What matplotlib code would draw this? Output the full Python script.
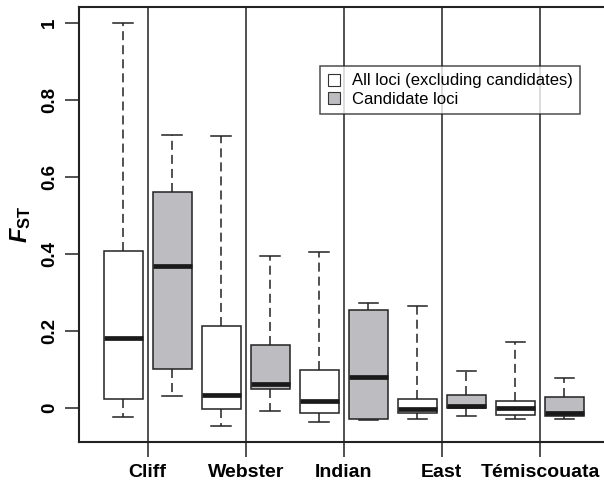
import numpy as np
import matplotlib
matplotlib.use('Agg')
import matplotlib.pyplot as plt
from matplotlib.patches import Patch

plt.rcParams['font.family'] = ['Liberation Sans', 'DejaVu Sans']
plt.rcParams['mathtext.fontset'] = 'custom'
plt.rcParams['mathtext.rm'] = 'Liberation Sans'
plt.rcParams['mathtext.bf'] = 'Liberation Sans:bold'
plt.rcParams['mathtext.it'] = 'Liberation Sans:italic'
plt.rcParams['mathtext.bfit'] = 'Liberation Sans:italic:bold'

lakes = ['Cliff', 'Webster', 'Indian', 'East', 'Témiscouata']

# five-number summaries per lake: whisker low, q1, median, q3, whisker high
all_lo = [-0.023, -0.045, -0.036, -0.027, -0.029]
all_q1 = [0.025, -0.003, -0.011, -0.013, -0.018]
all_med = [0.183, 0.034, 0.020, -0.001, 0.000]
all_q3 = [0.409, 0.214, 0.099, 0.023, 0.020]
all_hi = [1.000, 0.707, 0.407, 0.267, 0.171]

cand_lo = [0.033, -0.007, -0.031, -0.020, -0.027]
cand_q1 = [0.103, 0.051, -0.029, 0.000, -0.019]
cand_med = [0.370, 0.063, 0.082, 0.006, -0.013]
cand_q3 = [0.563, 0.164, 0.255, 0.035, 0.029]
cand_hi = [0.710, 0.396, 0.273, 0.097, 0.079]

yticks = [0, 0.2, 0.4, 0.6, 0.8, 1]
ytick_labels = ['0', '0.2', '0.4', '0.6', '0.8', '1']

gray = '#bdbdc1'

fig = plt.figure(figsize=(6.04, 4.83), dpi=100)
ax = fig.add_axes([79 / 604, 1 - 442 / 483, 529.6 / 604, 435 / 483])


def make_stats(lo, q1, med, q3, hi):
    return [dict(whislo=a, q1=b, med=c, q3=d, whishi=e, fliers=[])
            for a, b, c, d, e in zip(lo, q1, med, q3, hi)]


pos_all = np.arange(len(lakes)) * 2 + 1
pos_cand = pos_all + 1

common = dict(widths=0.8, patch_artist=True, showfliers=False,
              whiskerprops=dict(color='#222222', lw=1.1, linestyle=(0, (5.9, 3.3))),
              capprops=dict(color='#222222', lw=1.1),
              medianprops=dict(color='#1a1a1a', lw=3.4, solid_capstyle='butt'),
              capwidths=0.4)

b1 = ax.bxp(make_stats(all_lo, all_q1, all_med, all_q3, all_hi), positions=pos_all,
            boxprops=dict(facecolor='white', edgecolor='#222222', lw=1.1), **common)
b2 = ax.bxp(make_stats(cand_lo, cand_q1, cand_med, cand_q3, cand_hi), positions=pos_cand,
            boxprops=dict(facecolor=gray, edgecolor='#222222', lw=1.1), **common)

# separators between lakes
seps = pos_all + 0.5
for s in seps:
    ax.axvline(s, color='#222222', lw=1.1, zorder=0.5)

ax.set_xlim(0.1, 10.9)
ax.set_ylim(-0.0875, 1.0423)

ax.set_xticks(seps)
ax.set_xticklabels(lakes, fontsize=14, fontweight='bold')
ax.set_yticks(yticks)
ax.set_yticklabels(ytick_labels, fontsize=13.5, fontweight='bold', rotation=90, va='center')
ax.tick_params(axis='y', length=10, width=1.1, pad=5, color='#222222')
ax.tick_params(axis='x', length=11, width=1.1, pad=5, color='#222222')

for side in ['left', 'bottom', 'top']:
    ax.spines[side].set_linewidth(1.5)
    ax.spines[side].set_color('#222222')
ax.spines['right'].set_visible(False)

ax.set_ylabel(r'$\mathbfit{F}_{\mathbf{ST}}$', fontsize=17, labelpad=6)

handles = [Patch(facecolor='white', edgecolor='#333333', lw=0.8),
           Patch(facecolor=gray, edgecolor='#333333', lw=0.8)]
leg = fig.legend(handles, ['All loci (excluding candidates)', 'Candidate loci'],
                 loc='upper left', bbox_to_anchor=(320 / 604, 1 - 66 / 483),
                 fontsize=12, frameon=True, fancybox=False, borderaxespad=0,
                 handlelength=0.75, handleheight=0.75, handletextpad=0.7,
                 labelspacing=0.2, borderpad=0.45)
leg.get_frame().set_edgecolor('#222222')
leg.get_frame().set_linewidth(1.1)

fig.savefig('out.png', dpi=100)
